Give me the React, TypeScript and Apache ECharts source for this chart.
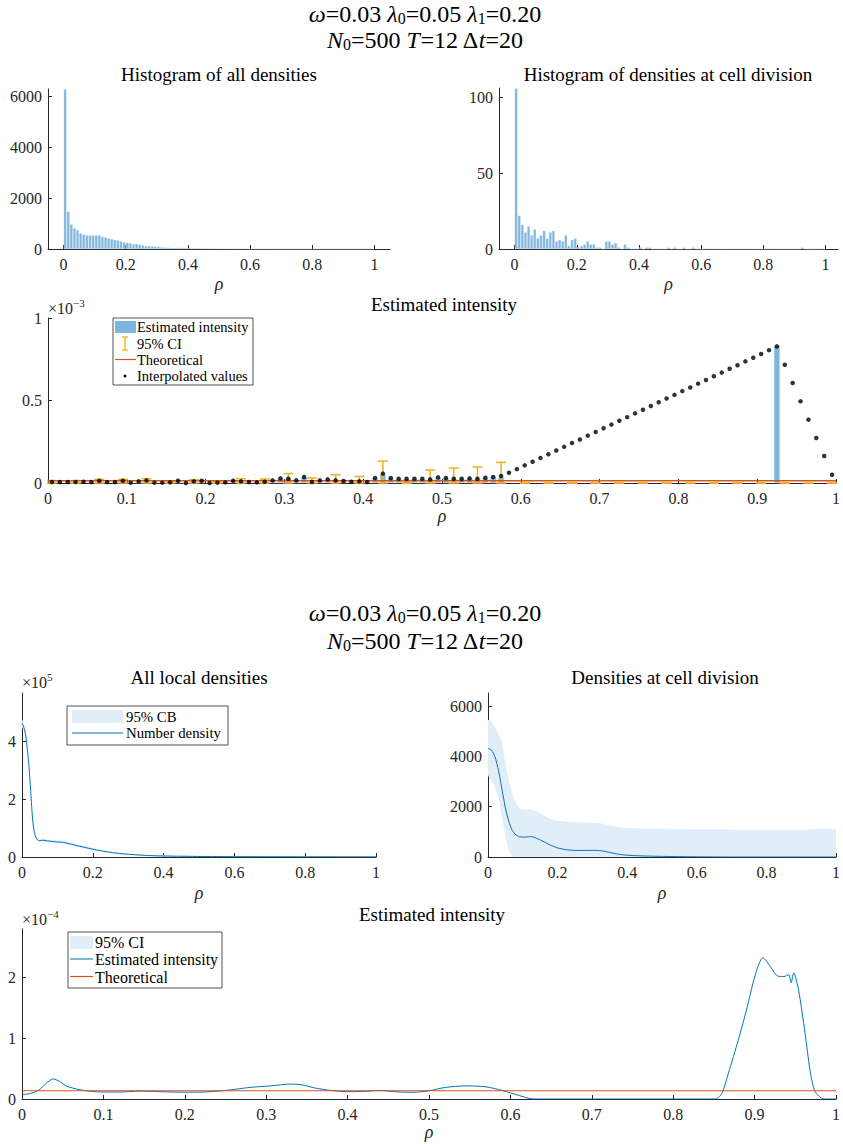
import React, { useEffect, useRef } from "react";
import * as echarts from "echarts";

const FONT = "'Liberation Serif', 'DejaVu Serif', serif";
const AX = "#262626";
const BLUE = "#0072BD";
const ORANGE = "#D95319";
const YELLOW = "#EDB120";
const BAR = "#7db5de";
const BAND = "#e1eef8";

// ---------- Top figure: histograms (100 bins of width 0.01) ----------
const histAllCounts = [
  6260, 1464, 967, 810, 745, 614, 575, 536, 536, 536,
  536, 536, 484, 458, 418, 392, 353, 340, 300, 261,
  248, 222, 183, 196, 170, 144, 118, 118, 105, 92,
  92, 65, 55, 52, 50, 48, 45, 42, 39, 37,
  36, 33, 30, 27, 25, 24, 22, 20, 19, 18,
  16, 15, 14, 13, 12, 11, 11, 10, 9, 9,
  8, 7, 7, 6, 6, 6, 5, 5, 5, 5,
  4, 4, 4, 4, 4, 4, 4, 3, 3, 3,
  3, 3, 3, 3, 3, 3, 3, 3, 3, 3,
  3, 3, 3, 3, 3, 3, 3, 3, 3, 3,
];
const histDivCounts = [
  106, 22, 16, 11, 15, 9, 13, 7, 9, 12,
  7, 11, 12, 5, 6, 5, 9, 2, 6, 7,
  1, 2, 3, 5, 3, 3, 1, 1, 0, 5,
  5, 3, 4, 1, 0, 3, 1, 0, 0, 0,
  1, 0, 1, 1, 0, 0, 0, 0, 0, 1,
  0, 1, 0, 0, 1, 0, 0, 1, 0, 0,
  0, 0, 0, 0, 0, 0, 0, 0, 0, 0,
  0, 0, 0, 0, 0, 0, 0, 0, 0, 0,
  0, 0, 0, 0, 0, 0, 0, 0, 0, 0,
  0, 0, 1, 0, 0, 0, 0, 0, 0, 0,
];

// Estimated intensity (x 1e-3), per bin
const intensityBarsE3 = [
  0.006, 0.006, 0.006, 0.006, 0.008, 0.006, 0.014, 0.006, 0.006, 0.014,
  0.002, 0.01, 0.016, 0.002, 0.002, 0.004, 0.014, 0, 0.01, 0.014,
  0, 0.002, 0.004, 0.014, 0.01, 0.006, 0.004, 0.008, 0.016, 0.028,
  0.03, 0.016, 0.036, 0.006, 0.016, 0.022, 0.02, 0.012, 0.008, 0.01,
  0.006, 0.03, 0.055, 0.03, 0.026, 0.026, 0.026, 0.026, 0.022, 0.03,
  0.03, 0.026, 0.026, 0.028, 0.026, 0.032, 0.036, 0.035, null, null,
  null, null, null, null, null, null, null, null, null, null,
  null, null, null, null, null, null, null, null, null, null,
  null, null, null, null, null, null, null, null, null, null,
  null, null, 0.83, null, null, null, null, null, null, null,
];
const interpolatedE3 = [
  0.006, 0.006, 0.006, 0.006, 0.008, 0.006, 0.014, 0.006, 0.006, 0.014,
  0.002, 0.01, 0.016, 0.002, 0.002, 0.004, 0.014, 0, 0.01, 0.014,
  0, 0.002, 0.004, 0.014, 0.01, 0.006, 0.004, 0.008, 0.016, 0.028,
  0.026, 0.016, 0.036, 0.006, 0.016, 0.022, 0.016, 0.012, 0.008, 0.01,
  0.006, 0.03, 0.057, 0.03, 0.026, 0.026, 0.026, 0.026, 0.022, 0.034,
  0.03, 0.026, 0.026, 0.028, 0.026, 0.032, 0.036, 0.042, 0.062, 0.084,
  0.107, 0.129, 0.152, 0.174, 0.197, 0.219, 0.242, 0.264, 0.287, 0.309,
  0.332, 0.354, 0.377, 0.399, 0.422, 0.444, 0.467, 0.489, 0.512, 0.534,
  0.557, 0.579, 0.602, 0.624, 0.647, 0.669, 0.692, 0.714, 0.737, 0.759,
  0.782, 0.805, 0.828, 0.717, 0.606, 0.495, 0.384, 0.273, 0.164, 0.05,
];
// 95% CI drawn on every third bin (x 1e-3)
const ciUpperE3 = [
  0.015, 0.015, 0.022, 0.022, 0.026, 0.012, 0.02, 0.012, 0.026, 0.024,
  0.057, 0.03, 0.05, 0.04, 0.133, 0, 0.079, 0.091, 0.097, 0.125,
  0, 0, 0, 0, 0, 0, 0, 0, 0, 0,
  0, 0, 0, 0,
];
const ciLowerE3 = [
  0, 0, 0, 0, 0, 0, 0, 0, 0, 0,
  0, 0, 0, 0, 0, 0, 0, 0, 0, 0,
  0, 0, 0, 0, 0, 0, 0, 0, 0, 0,
  0, 0, 0, 0,
];
const theoreticalE3 = 0.0135;

// ---------- Bottom figure ----------
// All local densities (x 1e5)
const allDensX = [0, 0.005, 0.01, 0.015, 0.02, 0.025, 0.03, 0.035, 0.04, 0.045, 0.05, 0.06, 0.07, 0.085, 0.1, 0.115, 0.13, 0.15, 0.175, 0.2, 0.225, 0.25, 0.275, 0.3, 0.35, 0.4, 0.45, 0.5, 0.6, 0.7, 0.8, 0.9, 1];
const allDensY = [4.63, 4.5, 4.25, 3.75, 3.1, 2.2, 1.3, 0.85, 0.66, 0.58, 0.57, 0.58, 0.56, 0.54, 0.52, 0.51, 0.47, 0.41, 0.34, 0.27, 0.21, 0.16, 0.12, 0.095, 0.055, 0.035, 0.025, 0.018, 0.012, 0.009, 0.007, 0.006, 0.005];
const allDensHi = [4.76, 4.62, 4.37, 3.87, 3.2, 2.28, 1.37, 0.91, 0.71, 0.63, 0.62, 0.63, 0.61, 0.59, 0.57, 0.56, 0.52, 0.46, 0.39, 0.31, 0.25, 0.2, 0.155, 0.125, 0.08, 0.06, 0.048, 0.04, 0.032, 0.028, 0.025, 0.024, 0.023];
const allDensLo = [4.5, 4.38, 4.13, 3.63, 3.0, 2.12, 1.23, 0.79, 0.61, 0.53, 0.52, 0.53, 0.51, 0.49, 0.47, 0.46, 0.42, 0.36, 0.29, 0.23, 0.17, 0.12, 0.085, 0.065, 0.03, 0.012, 0.004, 0, 0, 0, 0, 0, 0];

// Densities at cell division
const divDensX = [0, 0.01, 0.02, 0.03, 0.04, 0.05, 0.06, 0.07, 0.08, 0.09, 0.1, 0.11, 0.123, 0.135, 0.15, 0.175, 0.2, 0.225, 0.25, 0.28, 0.31, 0.33, 0.35, 0.375, 0.4, 0.45, 0.5, 0.55, 0.6, 0.65, 0.7, 0.8, 0.9, 1];
const divDensY = [4316, 4250, 3986, 3450, 2700, 1950, 1400, 1050, 880, 810, 790, 795, 815, 770, 680, 500, 360, 290, 262, 262, 265, 240, 180, 110, 70, 40, 25, 15, 8, 3, 0, 0, 0, 0];
const divDensHi = [5438, 5390, 5150, 4900, 4550, 3750, 3050, 2500, 2150, 1950, 1890, 1880, 1885, 1840, 1740, 1540, 1440, 1400, 1380, 1373, 1360, 1320, 1250, 1185, 1150, 1130, 1115, 1105, 1096, 1090, 1086, 1082, 1082, 1082];
const divDensLo = [3260, 3050, 2750, 2350, 1600, 850, 250, 0, 0, 0, 0, 0, 0, 0, 0, 0, 0, 0, 0, 0, 0, 0, 0, 0, 0, 0, 0, 0, 0, 0, 0, 0, 0, 0];

// Estimated intensity (x 1e-4)
const intX = [0, 0.01, 0.02, 0.03, 0.038, 0.046, 0.055, 0.07, 0.085, 0.1, 0.12, 0.145, 0.175, 0.2, 0.22, 0.25, 0.28, 0.305, 0.33, 0.345, 0.36, 0.38, 0.4, 0.42, 0.44, 0.46, 0.48, 0.5, 0.52, 0.545, 0.57, 0.59, 0.61, 0.628, 0.7, 0.8, 0.852, 0.86, 0.868, 0.88, 0.89, 0.898, 0.904, 0.91, 0.918, 0.928, 0.936, 0.942, 0.945, 0.948, 0.954, 0.962, 0.968, 0.974, 0.985, 1];
const intY = [0.07, 0.09, 0.14, 0.26, 0.33, 0.29, 0.21, 0.155, 0.125, 0.115, 0.115, 0.13, 0.118, 0.112, 0.113, 0.14, 0.19, 0.215, 0.245, 0.23, 0.18, 0.14, 0.12, 0.125, 0.14, 0.118, 0.11, 0.135, 0.19, 0.215, 0.2, 0.14, 0.06, 0, 0, 0, 0, 0.1, 0.43, 0.97, 1.46, 1.9, 2.17, 2.32, 2.2, 2.02, 2.01, 2.04, 1.91, 2.07, 1.79, 1.08, 0.48, 0.13, 0, 0];
const theoreticalE4 = 0.135;

const theoX = [0, 1];

// ---------- helpers ----------
const binCenters = histAllCounts.map((_, i) => Math.round((i + 0.5) * 10) / 1000);
const ciX = binCenters.filter((_, i) => i % 3 === 0);
const fmt = (v: number) => String(Math.round(v * 1000) / 1000);

const xAxisOf = (g: number, min: number, max: number, ticks: number[], nameGap: number) => ({
  type: "value",
  gridIndex: g,
  min,
  max,
  axisLine: { show: true, onZero: false, lineStyle: { color: AX, width: 1 } },
  axisTick: { show: true, inside: true, length: 4, customValues: ticks, lineStyle: { color: AX } },
  axisLabel: { show: true, customValues: ticks, margin: 7, color: AX, fontFamily: FONT, fontSize: 16, formatter: (v: number) => fmt(v) },
  splitLine: { show: false },
  name: "ρ",
  nameLocation: "middle",
  nameGap,
  nameTextStyle: { fontFamily: FONT, fontSize: 18, fontStyle: "italic", color: AX },
});
const yAxisOf = (g: number, max: number, ticks: number[]) => ({
  type: "value",
  gridIndex: g,
  min: 0,
  max,
  axisLine: { show: true, onZero: false, lineStyle: { color: AX, width: 1 } },
  axisTick: { show: true, inside: true, length: 4, customValues: ticks, lineStyle: { color: AX } },
  axisLabel: { show: true, customValues: ticks, margin: 6, color: AX, fontFamily: FONT, fontSize: 16, formatter: (v: number) => fmt(v) },
  splitLine: { show: false },
});

const T = (x: number, y: number, text: string, size: number, align = "center", italic = false) => ({
  type: "text",
  x,
  y,
  z: 100,
  style: {
    text,
    font: `${italic ? "italic " : ""}${size}px ${FONT}`,
    fill: "#000",
    textAlign: align,
    textVerticalAlign: "middle",
  },
});

const mathRich = (size: number) => ({
  n: { fontFamily: FONT, fontSize: size, lineHeight: size + 1, fill: "#000" },
  i: { fontFamily: FONT, fontSize: size, fontStyle: "italic", lineHeight: size + 1, fill: "#000" },
  s: { fontFamily: FONT, fontSize: Math.round(size * 0.68), lineHeight: Math.round(size * 0.33), verticalAlign: "bottom", fill: "#000" },
});
const mathText = (x: number, y: number, text: string, size: number) => ({
  type: "text",
  x,
  y,
  z: 100,
  style: { text, rich: mathRich(size), textAlign: "center", textVerticalAlign: "middle", fill: "#000", font: `${size}px ${FONT}` },
});
const expText = (x: number, y: number, exp: string) => ({
  type: "text",
  x,
  y,
  z: 100,
  style: {
    text: `{b|×10}{p|${exp}}`,
    textAlign: "left",
    textVerticalAlign: "middle",
    font: `16px ${FONT}`,
    rich: {
      b: { fontFamily: FONT, fontSize: 16, lineHeight: 22, fill: AX },
      p: { fontFamily: FONT, fontSize: 11, lineHeight: 15, verticalAlign: "top", fill: AX },
    },
  },
});
const box = (x: number, y: number, w: number, h: number) => ({
  type: "rect",
  z: 99,
  shape: { x, y, width: w, height: h },
  style: { fill: "#fff", stroke: AX, lineWidth: 0.8 },
});
const seg = (x1: number, y1: number, x2: number, y2: number, color: string, lw = 1) => ({
  type: "line",
  z: 100,
  shape: { x1, y1, x2, y2 },
  style: { stroke: color, lineWidth: lw },
});
const patch = (x: number, y: number, w: number, h: number, color: string) => ({
  type: "rect",
  z: 100,
  shape: { x, y, width: w, height: h },
  style: { fill: color },
});

// band polygon drawn through the axis scales (custom series)
const bandSeries = (axisIdx: number, xs: number[], lo: number[], hi: number[]) => ({
  type: "custom",
  xAxisIndex: axisIdx,
  yAxisIndex: axisIdx,
  z: 1,
  clip: true,
  silent: true,
  data: xs.map((x, i) => [x, lo[i], hi[i]]),
  encode: { x: 0, y: [1, 2] },
  renderItem: (params: any, api: any) => {
    if (params.dataIndex !== 0) return null;
    const top = xs.map((x, i) => api.coord([x, hi[i]]));
    const bot = xs.map((x, i) => api.coord([x, lo[i]])).reverse();
    return {
      type: "polygon",
      shape: { points: top.concat(bot), smooth: 0.2 },
      style: { fill: BAND, stroke: "none" },
    };
  },
});

function buildOption() {
  const title1a = "{i|ω}{n|=0.03 }{i|λ}{s|0}{n|=0.05 }{i|λ}{s|1}{n|=0.20}";
  const title1b = "{i|N}{s|0}{n|=500 }{i|T}{n|=12 Δ}{i|t}{n|=20}";

  const graphic: any[] = [
    mathText(425, 14, title1a, 24),
    mathText(425, 40, title1b, 24),
    mathText(425, 613, title1a, 24),
    mathText(425, 641, title1b, 24),
    T(219, 74, "Histogram of all densities", 19),
    T(668, 74, "Histogram of densities at cell division", 19),
    T(444, 304, "Estimated intensity", 19),
    T(199, 677, "All local densities", 19),
    T(665, 677, "Densities at cell division", 19),
    T(432, 914, "Estimated intensity", 19),
    expText(48, 308.5, "−3"),
    expText(22, 682, "5"),
    expText(22, 919, "−4"),
    // legend, top intensity
    box(113, 318, 140, 67),
    patch(115, 321, 21, 12, BAR),
    T(137, 327, "Estimated intensity", 14.5, "left"),
    seg(125, 337, 125, 350, YELLOW, 1.3),
    seg(122, 337, 128, 337, YELLOW, 1.3),
    seg(122, 350, 128, 350, YELLOW, 1.3),
    T(137, 343.5, "95% CI", 14.5, "left"),
    seg(115, 359.5, 136, 359.5, ORANGE, 1.2),
    T(137, 359.5, "Theoretical", 14.5, "left"),
    { type: "circle", z: 100, shape: { cx: 125, cy: 376, r: 1.4 }, style: { fill: "#000" } },
    T(137, 376, "Interpolated values", 14.5, "left"),
    // legend, all local densities
    box(67, 706, 161, 39),
    patch(72, 710, 51, 13, BAND),
    T(126, 716.5, "95% CB", 14.8, "left"),
    seg(72, 733, 123, 733, BLUE, 1),
    T(126, 733, "Number density", 14.8, "left"),
    // legend, bottom intensity
    box(68, 932, 154, 56),
    patch(70, 936, 23, 13, BAND),
    T(95, 942.5, "95% CI", 16, "left"),
    seg(70, 959, 93, 959, BLUE, 1),
    T(95, 959.5, "Estimated intensity", 16, "left"),
    seg(70, 976.5, 93, 976.5, ORANGE, 1.2),
    T(95, 977, "Theoretical", 16, "left"),
  ];

  const ticks02 = [0, 0.2, 0.4, 0.6, 0.8, 1];
  const ticks01 = [0, 0.1, 0.2, 0.3, 0.4, 0.5, 0.6, 0.7, 0.8, 0.9, 1];

  return {
    animation: false,
    backgroundColor: "#fff",
    textStyle: { fontFamily: FONT },
    grid: [
      { left: 48, top: 89, width: 342, height: 160 },
      { left: 499, top: 88, width: 339, height: 161 },
      { left: 48, top: 318, width: 793, height: 165 },
      { left: 22, top: 693, width: 354, height: 164 },
      { left: 488, top: 693, width: 354, height: 164 },
      { left: 22, top: 929, width: 820, height: 170 },
    ],
    xAxis: [
      xAxisOf(0, -0.05, 1.05, ticks02, 26),
      xAxisOf(1, -0.05, 1.04, ticks02, 26),
      xAxisOf(2, 0, 1, ticks01, 24),
      xAxisOf(3, 0, 1, ticks02, 27),
      xAxisOf(4, 0, 1, ticks02, 27),
      xAxisOf(5, 0, 1, ticks01, 14),
    ],
    yAxis: [
      yAxisOf(0, 6275, [0, 2000, 4000, 6000]),
      yAxisOf(1, 106.4, [0, 50, 100]),
      yAxisOf(2, 1, [0, 0.5, 1]),
      yAxisOf(3, 5.68, [0, 2, 4]),
      yAxisOf(4, 6519, [0, 2000, 4000, 6000]),
      yAxisOf(5, 2.79, [0, 1, 2]),
    ],
    graphic,
    series: [
      {
        type: "bar",
        xAxisIndex: 0,
        yAxisIndex: 0,
        barWidth: 2.7,
        itemStyle: { color: BAR, borderColor: "#c4dbec", borderWidth: 0.4 },
        data: binCenters.map((x, i) => [x, histAllCounts[i]]),
        silent: true,
      },
      {
        type: "bar",
        xAxisIndex: 1,
        yAxisIndex: 1,
        barWidth: 2.7,
        itemStyle: { color: BAR, borderColor: "#c4dbec", borderWidth: 0.4 },
        data: binCenters.map((x, i) => [x, histDivCounts[i]]),
        silent: true,
      },
      {
        type: "bar",
        xAxisIndex: 2,
        yAxisIndex: 2,
        barWidth: 6,
        itemStyle: { color: BAR, borderColor: "#c4dbec", borderWidth: 0.5 },
        data: binCenters.map((x, i) => [x, intensityBarsE3[i]]).filter((d) => d[1] !== null),
        silent: true,
      },
      {
        type: "custom",
        xAxisIndex: 2,
        yAxisIndex: 2,
        z: 3,
        data: ciX.map((x, i) => [x, ciLowerE3[i], ciUpperE3[i]]),
        encode: { x: 0, y: [1, 2] },
        renderItem: (_p: any, api: any) => {
          const x = api.value(0);
          const lo = api.coord([x, api.value(1)]);
          const hi = api.coord([x, api.value(2)]);
          const hw = 5;
          const st = { stroke: YELLOW, lineWidth: 1.5 };
          return {
            type: "group",
            children: [
              { type: "line", shape: { x1: lo[0], y1: lo[1], x2: hi[0], y2: hi[1] }, style: st },
              { type: "line", shape: { x1: hi[0] - hw, y1: hi[1], x2: hi[0] + hw, y2: hi[1] }, style: st },
              { type: "line", shape: { x1: lo[0] - hw, y1: lo[1], x2: lo[0] + hw, y2: lo[1] }, style: st },
            ],
          };
        },
        silent: true,
      },
      {
        type: "line",
        xAxisIndex: 2,
        yAxisIndex: 2,
        z: 4,
        symbol: "none",
        lineStyle: { color: ORANGE, width: 1.3 },
        data: theoX.map((x) => [x, theoreticalE3]),
        silent: true,
      },
      {
        type: "scatter",
        xAxisIndex: 2,
        yAxisIndex: 2,
        z: 5,
        symbolSize: 4.5,
        itemStyle: { color: "#000" },
        data: binCenters.map((x, i) => [x, interpolatedE3[i]]),
        silent: true,
      },
      // all local densities band + line
      bandSeries(3, allDensX, allDensLo, allDensHi),
      {
        type: "line",
        xAxisIndex: 3,
        yAxisIndex: 3,
        z: 3,
        symbol: "none",
        smooth: 0.2,
        lineStyle: { color: BLUE, width: 1 },
        data: allDensX.map((x, i) => [x, allDensY[i]]),
        silent: true,
      },
      // densities at cell division band + line
      bandSeries(4, divDensX, divDensLo, divDensHi),
      {
        type: "line",
        xAxisIndex: 4,
        yAxisIndex: 4,
        z: 3,
        symbol: "none",
        smooth: 0.2,
        lineStyle: { color: BLUE, width: 1 },
        data: divDensX.map((x, i) => [x, divDensY[i]]),
        silent: true,
      },
      // bottom intensity
      {
        type: "line",
        xAxisIndex: 5,
        yAxisIndex: 5,
        symbol: "none",
        smooth: 0.25,
        lineStyle: { color: BLUE, width: 1 },
        data: intX.map((x, i) => [x, intY[i]]),
        silent: true,
      },
      {
        type: "line",
        xAxisIndex: 5,
        yAxisIndex: 5,
        symbol: "none",
        lineStyle: { color: ORANGE, width: 1.2 },
        data: theoX.map((x) => [x, theoreticalE4]),
        silent: true,
      },
    ],
  };
}

export default function App() {
  const ref = useRef<HTMLDivElement>(null);
  useEffect(() => {
    if (!ref.current) return;
    const chart = echarts.init(ref.current, null, { renderer: "svg" });
    chart.setOption(buildOption() as any);
    return () => chart.dispose();
  }, []);
  return (
    <div
      ref={ref}
      style={{ position: "absolute", left: 0, top: 0, width: 843, height: 1144, background: "#fff" }}
    />
  );
}
